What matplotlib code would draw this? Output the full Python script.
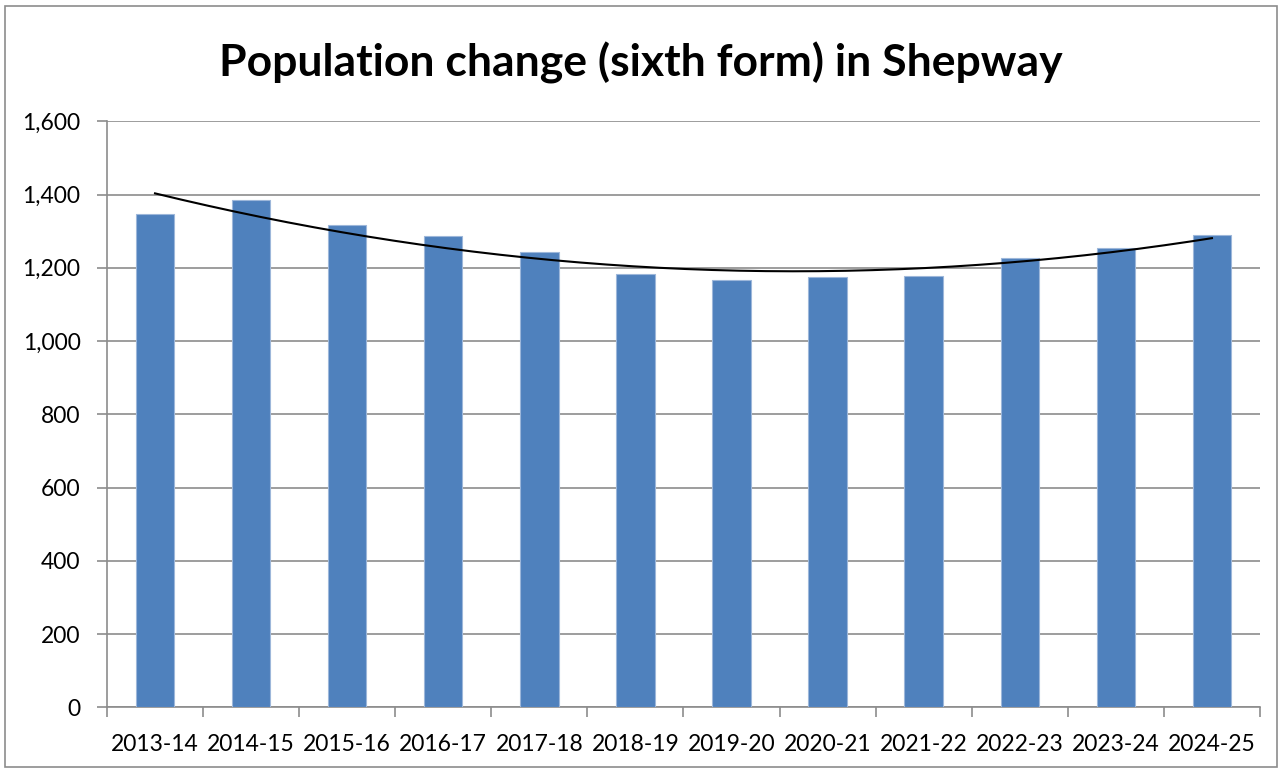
import matplotlib.pyplot as plt
from matplotlib.patches import Rectangle
from matplotlib.ticker import FuncFormatter, MultipleLocator
import numpy as np

# Data
years = ['2013-14', '2014-15', '2015-16', '2016-17', '2017-18', '2018-19',
         '2019-20', '2020-21', '2021-22', '2022-23', '2023-24', '2024-25']
population = [1346, 1384, 1317, 1287, 1242, 1182, 1166, 1176, 1178, 1228, 1254, 1289]

plt.rcParams['font.family'] = ['Lato', 'DejaVu Sans']

fig = plt.figure(figsize=(12.81, 7.69), dpi=100)
ax = fig.add_axes([0.0835, 0.0802, 0.9001, 0.7621])

x = np.arange(len(years))
ax.bar(x, population, width=0.4, color='#4F81BD', edgecolor='#9DB7DA',
       linewidth=0.8, zorder=3)

# polynomial (order 2) trendline, like Excel
coef = np.polyfit(x, population, 2)
xs = np.linspace(x[0], x[-1], 200)
ax.plot(xs, np.polyval(coef, xs), color='black', linewidth=1.5, zorder=4)

ax.set_xlim(-0.5, len(years) - 0.5)
ax.set_ylim(0, 1600)
ax.yaxis.set_major_locator(MultipleLocator(200))
ax.yaxis.set_major_formatter(FuncFormatter(lambda v, p: f'{int(v):,}'))
ax.grid(axis='y', color='#8C8C8C', linewidth=1.2, zorder=0)

ax.set_xticks(x)
ax.set_xticklabels(years, fontsize=16.5)
ax.set_xticks(np.arange(-0.5, len(years)), minor=True)
ax.tick_params(axis='x', which='major', length=0, pad=19)
ax.tick_params(axis='x', which='minor', length=7, color='#8C8C8C', width=1.2)
ax.tick_params(axis='y', length=7, color='#8C8C8C', width=1.2, labelsize=16.5, pad=12)

for side in ['top', 'right']:
    ax.spines[side].set_visible(False)
for side in ['left', 'bottom']:
    ax.spines[side].set_color('#8C8C8C')
    ax.spines[side].set_linewidth(1.2)

fig.text(0.5, 0.918, 'Population change (sixth form) in Shepway',
         ha='center', va='center', fontsize=32, fontweight='bold')

# outer chart frame
fig.patches.append(Rectangle((0.004, 0.002), 0.993, 0.99, transform=fig.transFigure,
                             fill=False, edgecolor='#8C8C8C', linewidth=1.2))

fig.savefig('out.png', dpi=100)
